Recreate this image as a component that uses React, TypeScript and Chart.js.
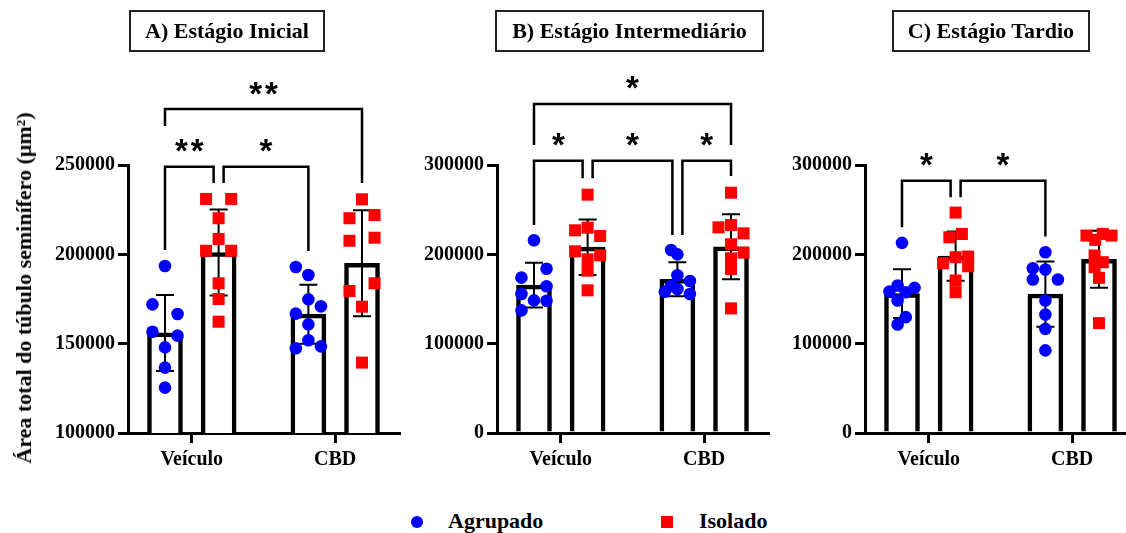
import React, { useEffect, useRef } from "react";
import { Chart, registerables } from "chart.js";

Chart.register(...registerables);

// ---------- shared labels ----------
const categories = ["Veículo", "CBD"];
const seriesNames = ["Agrupado", "Isolado"];
const panelTitles = ["A) Estágio Inicial", "B) Estágio Intermediário", "C) Estágio Tardio"];
const yAxisTitle = "Área total do túbulo seminífero (μm²)";

// ---------- Panel A (Estágio Inicial) ----------
const A_AGR_MEAN = [156000, 166500];
const A_AGR_SD = [21300, 16500];
const A_ISO_MEAN = [201000, 195000];
const A_ISO_SD = [24100, 29700];
const A_VEI_AGR = [193500, 172000, 166600, 156700, 154500, 147900, 136600, 125400];
const A_VEI_AGR_SLOT = [0, -1, 1, -1, 1, 0, 0, 0];
const A_VEI_ISO = [231000, 231000, 220200, 208600, 202000, 202000, 183800, 175000, 162300];
const A_VEI_ISO_SLOT = [-1, 1, 0, 0, -1, 1, 0, 0, 0];
const A_CBD_AGR = [192900, 188400, 174800, 170900, 166800, 160800, 151900, 147400, 148500];
const A_CBD_AGR_SLOT = [-1, 0, 0, 1, -1, 0, 0, -1, 1];
const A_CBD_ISO = [230800, 220200, 222000, 207600, 209300, 183800, 179500, 170700, 139400];
const A_CBD_ISO_SLOT = [0, -1, 1, -1, 1, 1, -1, 0, 0];
const A_TICKS = [100000, 250000, 50000];
const A_BRACKETS = [
  { from: [0, 0, 0], to: [0, 1, -1], top: 249000, fromEnd: 202400, toEnd: 239900, label: "**" },
  { from: [0, 1, 1], to: [1, 0, 0], top: 249000, fromEnd: 239900, toEnd: 201900, label: "*" },
  { from: [0, 0, 0], to: [1, 1, 0], top: 281300, fromEnd: 271800, toEnd: 239900, label: "**" },
];

// ---------- Panel B (Estágio Intermediário) ----------
const B_AGR_MEAN = [165500, 172000];
const B_AGR_SD = [25000, 19000];
const B_ISO_MEAN = [208000, 208500];
const B_ISO_SD = [31000, 36400];
const B_VEI_AGR = [215700, 183900, 173900, 164200, 155600, 148500, 148100, 137300];
const B_VEI_AGR_SLOT = [0, 1, -1, 1, -1, 0, 1, -1];
const B_VEI_ISO = [266800, 226900, 229800, 220500, 203400, 198900, 194400, 181700, 159700];
const B_VEI_ISO_SLOT = [0, -1, 0, 1, -1, 1, 0, 0, 0];
const B_CBD_AGR = [204900, 200000, 176500, 170100, 164600, 158200, 161200, 155600];
const B_CBD_AGR_SLOT = [-0.5, 0, 0, 1, -0.5, -1, 0, 1];
const B_CBD_ISO = [269000, 230200, 232800, 223500, 211200, 201900, 195500, 183600, 139500];
const B_CBD_ISO_SLOT = [0, -1, 0, 1, 0, 1, 0, 0, 0];
const B_TICKS = [0, 300000, 100000];
const B_BRACKETS = [
  { from: [0, 0, 0], to: [0, 1, -1], top: 304800, fromEnd: 232800, toEnd: 285100, label: "*" },
  { from: [0, 1, 1], to: [1, 0, -1], top: 304800, fromEnd: 285100, toEnd: 221600, label: "*" },
  { from: [1, 0, 1], to: [1, 1, 0], top: 304800, fromEnd: 221600, toEnd: 287700, label: "*" },
  { from: [0, 0, 0], to: [1, 1, 0], top: 368300, fromEnd: 322400, toEnd: 322400, label: "*" },
];

// ---------- Panel C (Estágio Tardio) ----------
const C_AGR_MEAN = [156000, 155500];
const C_AGR_SD = [27400, 36500];
const C_ISO_MEAN = [198000, 194500];
const C_ISO_SD = [27600, 32000];
const C_VEI_AGR = [212800, 158400, 165100, 162500, 157600, 148400, 129700, 121500];
const C_VEI_AGR_SLOT = [0, -1, -0.35, 1, 0.3, -0.35, 0.3, -0.35];
const C_VEI_ISO = [246700, 222800, 219100, 196800, 197500, 186600, 190100, 170700, 157600];
const C_VEI_ISO_SLOT = [0, 0.5, -0.5, 0, 1, 1, -1, 0, 0];
const C_CBD_AGR = [202400, 184500, 183000, 171800, 171800, 148400, 132700, 116600, 92500];
const C_CBD_AGR_SLOT = [0, -1, 0, -1, 1, 0, 0, 0, 0];
const C_CBD_ISO = [221000, 216200, 222900, 221000, 198700, 191200, 185600, 173700, 123000];
const C_CBD_ISO_SLOT = [-1, -0.3, 0.3, 1, -0.35, 0.3, -0.35, 0, 0];
const C_TICKS = [0, 300000, 100000];
const C_BRACKETS = [
  { from: [0, 0, 0], to: [0, 1, -1], top: 282500, fromEnd: 230300, toEnd: 263800, label: "*" },
  { from: [0, 1, 1], to: [1, 0, 0], top: 282500, fromEnd: 263800, toEnd: 219900, label: "*" },
];

// ---------- layout / style constants ----------
const OFF = 0.187; // half distance between grouped bars (category units)
const JIT = 0.0875; // horizontal jitter step for points (category units)
const NUDGE = 5; // px shift of bracket legs sharing a bar
const X_MIN = -0.445;
const X_MAX = 1.445;
const SERIF = '"Liberation Serif", "Times New Roman", serif';
const BLUE = "#0000ff";
const RED = "#ff0000";

const xOf = (cat: number, ser: number) => cat + (ser === 0 ? -OFF : OFF);

type PanelDef = {
  left: number;
  width: number;
  axisX: number;
  padRight: number;
  ticks: number[];
  agrMean: number[];
  agrSd: number[];
  isoMean: number[];
  isoSd: number[];
  pts: number[][][];
  slots: number[][][];
  brackets: any[];
};

const PANELS: PanelDef[] = [
  {
    left: 0, width: 420, axisX: 128, padRight: 21, ticks: A_TICKS,
    agrMean: A_AGR_MEAN, agrSd: A_AGR_SD, isoMean: A_ISO_MEAN, isoSd: A_ISO_SD,
    pts: [[A_VEI_AGR, A_CBD_AGR], [A_VEI_ISO, A_CBD_ISO]],
    slots: [[A_VEI_AGR_SLOT, A_CBD_AGR_SLOT], [A_VEI_ISO_SLOT, A_CBD_ISO_SLOT]],
    brackets: A_BRACKETS,
  },
  {
    left: 420, width: 365, axisX: 497, padRight: 17, ticks: B_TICKS,
    agrMean: B_AGR_MEAN, agrSd: B_AGR_SD, isoMean: B_ISO_MEAN, isoSd: B_ISO_SD,
    pts: [[B_VEI_AGR, B_CBD_AGR], [B_VEI_ISO, B_CBD_ISO]],
    slots: [[B_VEI_AGR_SLOT, B_CBD_AGR_SLOT], [B_VEI_ISO_SLOT, B_CBD_ISO_SLOT]],
    brackets: B_BRACKETS,
  },
  {
    left: 785, width: 380, axisX: 865, padRight: 29, ticks: C_TICKS,
    agrMean: C_AGR_MEAN, agrSd: C_AGR_SD, isoMean: C_ISO_MEAN, isoSd: C_ISO_SD,
    pts: [[C_VEI_AGR, C_CBD_AGR], [C_VEI_ISO, C_CBD_ISO]],
    slots: [[C_VEI_AGR_SLOT, C_CBD_AGR_SLOT], [C_VEI_ISO_SLOT, C_CBD_ISO_SLOT]],
    brackets: C_BRACKETS,
  },
];

const CANVAS_H = 480;
const CHART_TOP = 165;
const CHART_BOTTOM = 433;

function makeOverlay(p: PanelDef) {
  return {
    id: "overlay",
    afterDatasetDraw(chart: any, args: any) {
      const ds = chart.data.datasets[args.index];
      if (!ds.sd) return;
      const { ctx } = chart;
      const x = chart.scales.x;
      const y = chart.scales.y;
      ctx.save();
      ctx.strokeStyle = "#000";
      ctx.lineWidth = 2;
      ds.data.forEach((pt: any, i: number) => {
        const px = x.getPixelForValue(pt.x);
        const t = y.getPixelForValue(pt.y + ds.sd[i]);
        const b = y.getPixelForValue(pt.y - ds.sd[i]);
        ctx.beginPath();
        ctx.moveTo(px, t);
        ctx.lineTo(px, b);
        ctx.moveTo(px - 9, t);
        ctx.lineTo(px + 9, t);
        ctx.moveTo(px - 9, b);
        ctx.lineTo(px + 9, b);
        ctx.stroke();
      });
      ctx.restore();
    },
    afterDraw(chart: any) {
      const { ctx } = chart;
      const x = chart.scales.x;
      const y = chart.scales.y;
      ctx.save();
      ctx.strokeStyle = "#000";
      ctx.fillStyle = "#000";
      ctx.lineWidth = 2.5;
      ctx.lineJoin = "miter";
      for (const b of p.brackets) {
        const x1 = x.getPixelForValue(xOf(b.from[0], b.from[1])) + b.from[2] * NUDGE;
        const x2 = x.getPixelForValue(xOf(b.to[0], b.to[1])) + b.to[2] * NUDGE;
        const yt = y.getPixelForValue(b.top);
        const y1 = y.getPixelForValue(b.fromEnd);
        const y2 = y.getPixelForValue(b.toEnd);
        ctx.beginPath();
        ctx.moveTo(x1, y1);
        ctx.lineTo(x1, yt);
        ctx.lineTo(x2, yt);
        ctx.lineTo(x2, y2);
        ctx.stroke();
        ctx.font = 'bold 33px "Liberation Sans", Arial, sans-serif';
        ctx.textAlign = "center";
        ctx.textBaseline = "alphabetic";
        const spacing = b.label.length > 1 ? 3 : 0;
        (ctx as any).letterSpacing = spacing + "px";
        ctx.fillText(b.label, (x1 + x2) / 2 + spacing / 2, yt - 4.5);
        (ctx as any).letterSpacing = "0px";
      }
      ctx.restore();
    },
  };
}

function PanelChart({ p }: { p: PanelDef }) {
  const ref = useRef<HTMLCanvasElement | null>(null);
  useEffect(() => {
    if (!ref.current) return;
    const barData = (means: number[], ser: number) =>
      means.map((m, c) => ({ x: xOf(c, ser), y: m }));
    const pointData = (ser: number) =>
      p.pts[ser].flatMap((vals, c) =>
        vals.map((v, k) => ({ x: xOf(c, ser) + p.slots[ser][c][k] * JIT, y: v }))
      );
    const tickFont = { family: SERIF, size: 20, weight: "bold" as const };
    const barStyle = {
      backgroundColor: "#ffffff",
      borderColor: "#000000",
      borderWidth: 4.5,
      borderSkipped: "start",
      barThickness: 35,
      grouped: false,
      order: 3,
    };
    const chart = new Chart(ref.current, {
      type: "bar",
      data: {
        datasets: [
          { type: "bar", label: seriesNames[0], data: barData(p.agrMean, 0), sd: p.agrSd, ...barStyle } as any,
          { type: "bar", label: seriesNames[1], data: barData(p.isoMean, 1), sd: p.isoSd, ...barStyle } as any,
          {
            type: "scatter",
            label: seriesNames[0],
            data: pointData(0),
            pointStyle: "circle",
            pointRadius: 6.3,
            backgroundColor: BLUE,
            borderColor: BLUE,
            borderWidth: 0,
            order: 1,
          } as any,
          {
            type: "scatter",
            label: seriesNames[1],
            data: pointData(1),
            pointStyle: "rect",
            pointRadius: 8.5,
            backgroundColor: RED,
            borderColor: RED,
            borderWidth: 0,
            order: 1,
          } as any,
        ],
      },
      options: {
        responsive: false,
        animation: false,
        events: [],
        layout: { padding: { top: CHART_TOP, right: p.padRight, left: 0, bottom: 0 } },
        plugins: { legend: { display: false }, tooltip: { enabled: false }, title: { display: false } },
        scales: {
          x: {
            type: "linear",
            offset: false,
            min: X_MIN,
            max: X_MAX,
            afterBuildTicks: (s: any) => {
              s.ticks = categories.map((_, i) => ({ value: i }));
            },
            afterFit: (s: any) => {
              s.height = CANVAS_H - CHART_BOTTOM;
            },
            ticks: {
              callback: (v: any) => categories[v] ?? "",
              font: tickFont,
              color: "#000",
              padding: 5,
              autoSkip: false,
              maxRotation: 0,
            },
            grid: { offset: false, drawOnChartArea: false, drawTicks: true, tickLength: 10, color: "#000", lineWidth: 3 },
            border: { display: true, color: "#000", width: 3 },
          },
          y: {
            type: "linear",
            min: p.ticks[0],
            max: p.ticks[1],
            afterFit: (s: any) => {
              s.width = p.axisX - p.left;
            },
            ticks: {
              stepSize: p.ticks[2],
              callback: (v: any) => String(v),
              font: tickFont,
              color: "#000",
              padding: 3,
            },
            grid: { drawOnChartArea: false, drawTicks: true, tickLength: 10, color: "#000", lineWidth: 3 },
            border: { display: true, color: "#000", width: 3 },
          },
        },
      } as any,
      plugins: [makeOverlay(p)],
    });
    return () => chart.destroy();
  }, [p]);
  return (
    <canvas
      ref={ref}
      width={p.width}
      height={CANVAS_H}
      style={{ position: "absolute", left: p.left, top: 0, width: p.width, height: CANVAS_H }}
    />
  );
}

const TITLE_BOXES = [
  { left: 129, width: 196 },
  { left: 495, width: 269 },
  { left: 892, width: 198 },
];

export default function App() {
  return (
    <div
      style={{
        position: "fixed",
        left: 0,
        top: 0,
        width: 1126,
        height: 533,
        overflow: "hidden",
        background: "#fff",
        fontFamily: SERIF,
      }}
    >
      {PANELS.map((p, i) => (
        <PanelChart key={i} p={p} />
      ))}
      {TITLE_BOXES.map((b, i) => (
        <div
          key={i}
          style={{
            position: "absolute",
            left: b.left,
            top: 10,
            width: b.width,
            height: 42,
            boxSizing: "border-box",
            border: "2px solid #222",
            display: "flex",
            alignItems: "center",
            justifyContent: "center",
            fontWeight: "bold",
            fontSize: 22,
            whiteSpace: "nowrap",
            color: "#000",
          }}
        >
          {panelTitles[i]}
        </div>
      ))}
      <div
        style={{
          position: "absolute",
          left: 24,
          top: 288,
          transform: "translate(-50%, -50%) rotate(-90deg)",
          whiteSpace: "nowrap",
          fontWeight: "bold",
          fontSize: 22,
          color: "#000",
        }}
      >
        {yAxisTitle}
      </div>
      <div
        style={{
          position: "absolute",
          left: 410.5,
          top: 515.5,
          width: 12.5,
          height: 12.5,
          borderRadius: "50%",
          background: BLUE,
        }}
      />
      <div
        style={{
          position: "absolute",
          left: 448,
          top: 509.5,
          lineHeight: "22px",
          fontSize: 22,
          fontWeight: "bold",
          color: "#000",
        }}
      >
        {seriesNames[0]}
      </div>
      <div
        style={{
          position: "absolute",
          left: 660.5,
          top: 516,
          width: 12,
          height: 12,
          background: RED,
        }}
      />
      <div
        style={{
          position: "absolute",
          left: 699,
          top: 509.5,
          lineHeight: "22px",
          fontSize: 22,
          fontWeight: "bold",
          color: "#000",
        }}
      >
        {seriesNames[1]}
      </div>
    </div>
  );
}
